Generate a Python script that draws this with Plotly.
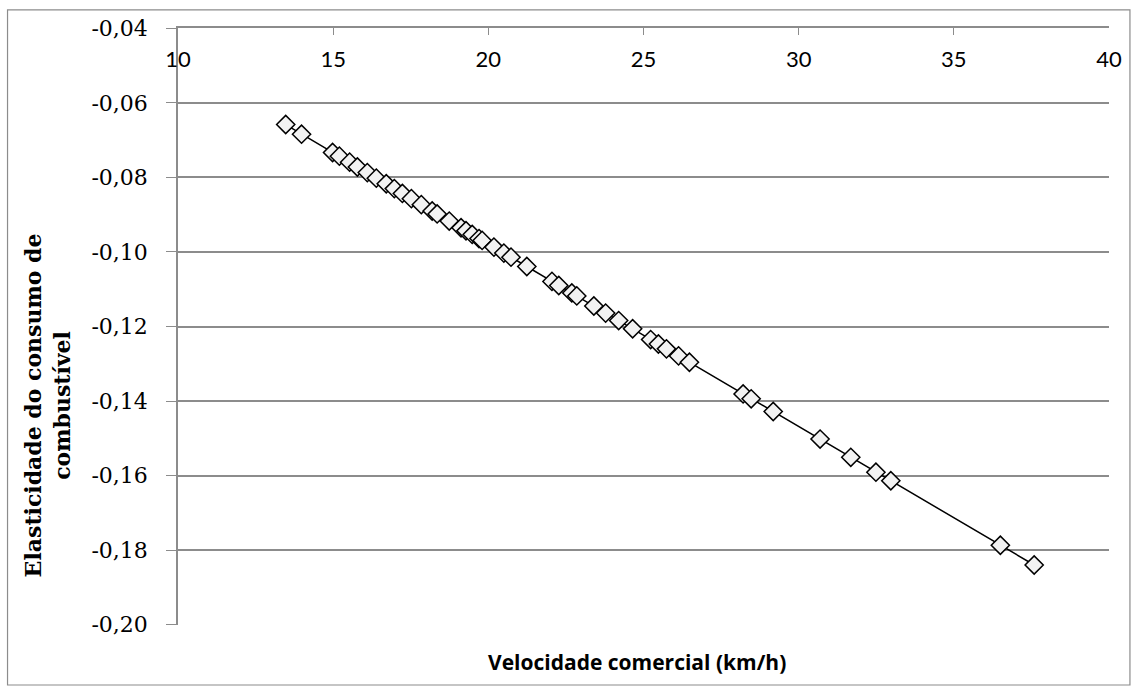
import plotly.graph_objects as go

# Commercial speed (km/h) and fuel-consumption elasticity for each observation
velocidade = [13.47, 13.98, 14.98, 15.20, 15.53, 15.78, 16.10, 16.39, 16.71, 16.97,
              17.23, 17.52, 17.84, 18.19, 18.35, 18.74, 19.12, 19.28, 19.48, 19.70,
              19.80, 20.18, 20.50, 20.73, 21.24, 22.05, 22.27, 22.69, 22.85, 23.40,
              23.78, 24.20, 24.65, 25.23, 25.48, 25.74, 26.13, 26.48, 28.21, 28.47,
              29.18, 30.69, 31.68, 32.49, 32.97, 36.50, 37.59]
elasticidade = [-0.0658, -0.0684, -0.0733, -0.0743, -0.0759, -0.0772, -0.0787, -0.0802, -0.0817, -0.0830,
                -0.0843, -0.0857, -0.0873, -0.0890, -0.0898, -0.0917, -0.0935, -0.0943, -0.0953, -0.0964,
                -0.0969, -0.0987, -0.1003, -0.1014, -0.1039, -0.1079, -0.1090, -0.1110, -0.1118, -0.1145,
                -0.1164, -0.1184, -0.1206, -0.1235, -0.1247, -0.1260, -0.1279, -0.1296, -0.1381, -0.1394,
                -0.1428, -0.1502, -0.1551, -0.1591, -0.1614, -0.1787, -0.1840]

x_ticks = [10, 15, 20, 25, 30, 35, 40]
x_labels = ["10", "15", "20", "25", "30", "35", "40"]
y_ticks = [-0.04, -0.06, -0.08, -0.10, -0.12, -0.14, -0.16, -0.18, -0.20]
y_labels = ["-0,04", "-0,06", "-0,08", "-0,10", "-0,12", "-0,14", "-0,16", "-0,18", "-0,20"]

GRID = "#8c8c8c"

fig = go.Figure()
fig.add_trace(go.Scatter(
    x=velocidade, y=elasticidade,
    mode="lines+markers",
    line=dict(color="black", width=1.5),
    marker=dict(symbol="diamond", size=14, color="#f2f2f2",
                line=dict(color="black", width=1.5)),
    showlegend=False,
))

fig.update_layout(
    width=1134, height=686,
    margin=dict(l=178, r=22, t=28, b=61),
    paper_bgcolor="white", plot_bgcolor="white",
    xaxis=dict(
        range=[9.999, 40.001], side="top", tickvals=x_ticks, ticktext=x_labels,
        ticks="inside", ticklen=7, tickcolor=GRID,
        ticklabelposition="inside", ticklabeloverflow="allow",
        ticklabelstandoff=18,
        showline=True, linecolor=GRID, linewidth=1.5,
        showgrid=False, zeroline=False,
        tickfont=dict(family="Lato", size=22, color="black"),
    ),
    yaxis=dict(
        range=[-0.2001, -0.0399], tickvals=y_ticks, ticktext=y_labels,
        ticks="outside", ticklen=10, tickcolor=GRID,
        ticklabelstandoff=14,
        showline=True, linecolor=GRID, linewidth=1.5,
        showgrid=True, gridcolor=GRID, gridwidth=1.5, zeroline=False,
        tickfont=dict(family="DejaVu Serif", size=22, color="black"),
    ),
)

# Outer chart frame
fig.add_shape(type="rect", xref="paper", yref="paper",
              x0=-0.1831, x1=1.0225, y0=-0.1005, y1=1.0302,
              line=dict(color=GRID, width=1.2), layer="below")

# Axis titles
fig.add_annotation(text="<b>Velocidade comercial (km/h)</b>",
                   xref="paper", yref="paper", x=0.493, y=-0.0620,
                   showarrow=False, xanchor="center", yanchor="middle",
                   font=dict(family="Open Sans", size=21, color="black"))
fig.add_annotation(text="<b>Elasticidade do consumo de<br>combustível</b>",
                   xref="paper", yref="paper", x=-0.1403, y=0.3685,
                   showarrow=False, textangle=-90, align="center",
                   xanchor="center", yanchor="middle",
                   font=dict(family="DejaVu Serif", size=22, color="black"))

fig.write_html("out.html")
